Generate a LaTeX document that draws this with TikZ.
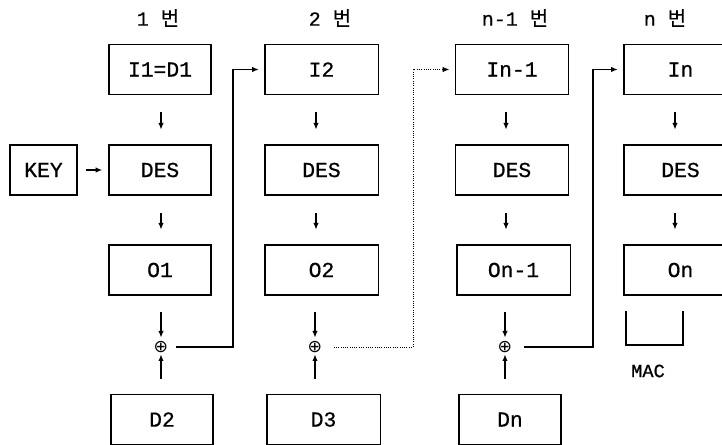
\documentclass[tikz,border=0pt]{standalone}
\usepackage{fontspec}
\setmainfont{Liberation Mono}[FakeBold=0.7]
\newfontfamily\kr{Noto Sans CJK KR}[FakeBold=0.4]
\newfontfamily\djv{DejaVu Sans}
\usetikzlibrary{arrows.meta,calc}
\begin{document}
\begin{tikzpicture}[x=0.75pt,y=-0.75pt,
  box/.style={draw,line width=1pt,inner sep=0pt,minimum height=37.5pt,font=\fontsize{16}{18}\selectfont},
  wA/.style={minimum width=76.5pt},
  wB/.style={minimum width=85pt},
  head/.style={inner sep=0pt,font=\fontsize{15}{18}\selectfont},
  xo/.style={circle,inner sep=0pt,minimum size=10pt,font=\djv\fontsize{13}{13}\selectfont},
  ln/.style={line width=1pt},
  tip/.style={-{Latex[length=5pt,width=4pt]}},
  sarr/.style={line width=0.9pt,tip},
  d1/.style={shorten <=13pt,shorten >=11pt},
  d2/.style={shorten <=12.5pt,shorten >=7pt},
  d3/.style={shorten <=11.25pt,shorten >=5.5pt}]
\useasboundingbox (0,0) rectangle (722,445);

% column reference coordinates
\coordinate (c1) at (161,0);
\coordinate (c2) at (316,0);
\coordinate (c3) at (506,0);
\coordinate (c4) at (675,0);

% headings
\node[head] (h1) at (158,18) {1 {\kr 번}};
\node[head] (h2) at (330,18) {2 {\kr 번}};
\node[head] (h3) at (515,18) {n-1 {\kr 번}};
\node[head] (h4) at (665,18) {n {\kr 번}};

% column 1
\node[box,wA] (I1) at (160,69.5) {I1=D1};
\node[box,wA] (E1) at (160,170) {DES};
\node[box,wA] (O1) at (160,270) {O1};
\node[box,wA] (D2) at (162,419.5) {D2};
\node[box,minimum width=50.25pt] (KEY) at (43.5,170) {KEY};

% column 2
\node[box,wB] (I2) at (321.5,69.5) {I2};
\node[box,wB] (E2) at (321.5,170) {DES};
\node[box,wB] (O2) at (321.5,270) {O2};
\node[box,wB] (D3) at (323.5,419.5) {D3};

% column 3
\node[box,wB] (I3) at (512,69.5) {In-1};
\node[box,wB] (E3) at (512,170) {DES};
\node[box,wB] (O3) at (513.5,270) {On-1};
\node[box,wA] (D4) at (510,419.5) {Dn};

% column 4
\node[box,wB] (I4) at (680.5,69.5) {In};
\node[box,wB] (E4) at (680.5,170) {DES};
\node[box,wB] (O4) at (680.5,270) {On};

% xor nodes
\node[xo] (x1) at (161,347) {⊕};
\node[xo] (x2) at (315,347) {⊕};
\node[xo] (x3) at (505,347) {⊕};

% vertical small arrows
\foreach \c/\i/\e/\o in {c1/I1/E1/O1,c2/I2/E2/O2,c3/I3/E3/O3,c4/I4/E4/O4}{
  \draw[sarr,d1] (\i.south -| \c) -- (\e.north -| \c);
  \draw[sarr,d1] (\e.south -| \c) -- (\o.north -| \c);
}
\draw[sarr,d2] (O1.south -| x1) -- (x1.center);
\draw[sarr,d2] (O2.south -| x2) -- (x2.center);
\draw[sarr,d2] (O3.south -| x3) -- (x3.center);
\draw[sarr,d3] (D2.north -| x1) -- (x1.center);
\draw[sarr,d3] (D3.north -| x2) -- (x2.center);
\draw[sarr,d3] (D4.north -| x3) -- (x3.center);

% key
\draw[sarr,shorten <=6pt,shorten >=4.5pt] (KEY) -- (E1);

% chaining lines
\coordinate (k1) at (233,69.5);
\coordinate (k2) at (413,69.5);
\coordinate (k3) at (593,69.5);
\draw[ln,tip,shorten <=4.5pt,shorten >=4pt] (x1) -| (k1) -- (I2.west);
\draw[line width=0.7pt,densely dotted,tip,shorten <=7pt,shorten >=4pt] (x2) -| (k2) -- (I3.west);
\draw[ln,tip,shorten <=7.5pt,shorten >=4pt] (x3) -| (k3) -- (I4.west);

% MAC bracket
\coordinate (m1) at (626,311);
\coordinate (m2) at (683,345);
\draw[ln] (m1) |- (m2) -- (m2 |- m1);
\node[head,font=\fontsize{14}{16}\selectfont] (mac) at (648,371) {MAC};
\end{tikzpicture}
\end{document}
